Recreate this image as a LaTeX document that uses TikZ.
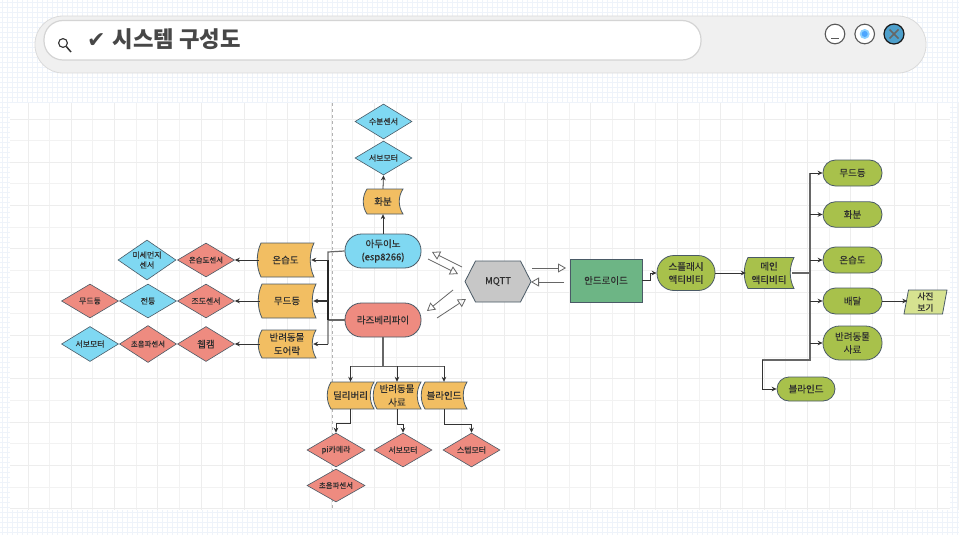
\documentclass[tikz,border=0pt]{standalone}
\usepackage{fontspec}
\setmainfont{Noto Sans CJK KR}
\newfontfamily\labelfont[FakeBold=0.22]{Noto Sans CJK KR}
\newfontfamily\checkfont{DejaVu Sans}
\usetikzlibrary{arrows.meta,shapes.geometric}
\definecolor{cblue}{HTML}{7FD8F2}
\definecolor{cred}{HTML}{EE8B80}
\definecolor{cyel}{HTML}{F2BE62}
\definecolor{cgrn}{HTML}{6DB585}
\definecolor{coli}{HTML}{A8C14B}
\definecolor{clite}{HTML}{D6E290}
\definecolor{cline}{HTML}{4A5A66}
\definecolor{ctext}{HTML}{2E2E2E}
\definecolor{cdot}{HTML}{EEF3FA}
\tikzset{
  dia/.style={diamond,draw=cline,line width=.6pt,fill=#1,inner sep=0pt,aspect=1.65,align=center,text=ctext,font=\labelfont\fontsize{7.9}{10}\selectfont},
  pill/.style={rectangle,draw=cline,line width=.8pt,fill=#1,rounded corners=12.5pt,inner sep=0pt,align=center,text=ctext,font=\labelfont\fontsize{9.5}{13}\selectfont},
  plain/.style={inner sep=0pt,align=center,text=ctext,font=\labelfont\fontsize{9.5}{13.5}\selectfont},
  wavy/.style={draw=cline,line width=.8pt,fill=#1},
  arr/.style={-{Stealth[length=5pt,width=4.6pt]},draw=black!80,line width=.8pt},
  oarr/.style={-{Triangle[open,length=8pt,width=9pt]},draw=black!60,line width=.8pt},
  trunk/.style={draw=black!60,line width=1.2pt},
}
% name, cx, cy, w, h, colour, text
\newcommand{\wavenode}[7]{%
  \path[wavy=#6] (#2-#4/2+4,#3-#5/2) -- (#2+#4/2,#3-#5/2)
    .. controls (#2+#4/2-5,#3-#5/5) and (#2+#4/2-5,#3+#5/5) .. (#2+#4/2,#3+#5/2)
    -- (#2-#4/2+4,#3+#5/2)
    .. controls (#2-#4/2-1,#3+#5/5) and (#2-#4/2-1,#3-#5/5) .. cycle;
  \node[plain,minimum width=#4*1pt-4pt,minimum height=#5*1pt] (#1) at (#2,#3) {#7};}
\begin{document}
\begin{tikzpicture}[x=1pt,y=-1pt]
\useasboundingbox (0,0) rectangle (959,535);
% page background
\fill[white] (0,0) rectangle (959,535);
\foreach \i in {0,...,191} \draw[draw=cdot,line width=.5pt] ({\i*5+2},0) -- ({\i*5+2},535);
\foreach \i in {0,...,106} \draw[draw=cdot,line width=.5pt] (0,{\i*5+2}) -- (959,{\i*5+2});
% drawing area
\fill[white] (10,103) rectangle (950,510);
\foreach \i in {0,...,21} \draw[draw=black!5,line width=1pt] ({49.65+\i*43.3},103) -- ({49.65+\i*43.3},510);
\foreach \i in {0,...,8} \draw[draw=black!5,line width=1pt] (10,{140.65+\i*43.3}) -- (950,{140.65+\i*43.3});
\foreach \i in {0,...,21} \draw[draw=black!7,line width=1pt] ({28.0+\i*43.3},103) -- ({28.0+\i*43.3},510);
\foreach \i in {0,...,9} \draw[draw=black!7,line width=1pt] (10,{119+\i*43.3}) -- (950,{119+\i*43.3});
\draw[draw=black!30,line width=.8pt,dashed] (332,103) -- (332,510);
% title bar
\draw[draw=black!14,fill=black!6,line width=.8pt,rounded corners=28pt] (35,16) rectangle (926,73);
\draw[draw=black!17,fill=white,line width=1.2pt,rounded corners=19pt] (44,20.5) rectangle (701,60);
\draw[draw=black!80,line width=1.1pt] (63,43) circle (4.4);
\draw[draw=black!80,line width=1.5pt] (66.3,46.5) -- (71,52);
\node[anchor=west,inner sep=0pt,text=black!72] (title) at (87,39.5) {{\checkfont\fontsize{22}{24}\selectfont ✔}\hspace{7pt}{\fontsize{22.3}{26}\selectfont\bfseries 시스템 구성도}};
\draw[draw=black!65,fill=white,line width=1.1pt] (835,34) circle (9.8);
\draw[draw=black!65,line width=1.3pt] (831,38.7) -- (839,38.7);
\draw[draw=black!65,fill=white,line width=1.1pt] (864.7,34) circle (9.8);
\fill[blue!40!cyan!45!white] (864.7,34) circle (5);
\fill[blue!50!cyan!70!white] (864.7,34) circle (3);
\draw[draw=black!90,fill=blue!35!cyan!55!gray!90,line width=1.2pt] (894,34) circle (10);
\draw[draw=black!60,line width=1.6pt] (889.5,29.5) -- (898.5,38.5) (898.5,29.5) -- (889.5,38.5);
% left diamonds
\node[dia=cblue,minimum width=58pt,minimum height=40pt] (mise) at (147,260) {미세먼지\\센서};
\node[dia=cred,minimum width=57pt,minimum height=34pt,font=\labelfont\fontsize{7.4}{9}\selectfont] (onsen) at (206,260) {온습도센서};
\node[dia=cred,minimum width=57pt,minimum height=34pt] (mood2) at (90,301) {무드등};
\node[dia=cblue,minimum width=57pt,minimum height=34pt] (lamp) at (148,301) {전등};
\node[dia=cred,minimum width=57pt,minimum height=34pt] (josen) at (206,301) {조도센서};
\node[dia=cblue,minimum width=57pt,minimum height=35pt] (servo1) at (90,344) {서보모터};
\node[dia=cred,minimum width=57pt,minimum height=37pt,font=\labelfont\fontsize{7.4}{9}\selectfont] (ultra1) at (148,344) {초음파센서};
\node[dia=cred,minimum width=57pt,minimum height=35pt,font=\labelfont\fontsize{9.5}{11}\selectfont] (webcam) at (206,344) {웹캠};
% left wave boxes
\wavenode{ond}{285.5}{260}{57}{34}{cyel}{온습도}
\wavenode{mood}{287}{301}{58}{34}{cyel}{무드등}
\wavenode{door}{287}{344}{58}{28}{cyel}{반려동물\\도어락}
% top column
\node[dia=cblue,minimum width=57pt,minimum height=35pt] (water) at (383.5,121.5) {수분센서};
\node[dia=cblue,minimum width=57pt,minimum height=34pt] (servo2) at (383.5,158) {서보모터};
\wavenode{pot}{383}{201.5}{40}{25}{cyel}{화분}
% controllers
\node[pill=cblue,minimum width=76pt,minimum height=34pt,rounded corners=16.5pt] (ard) at (383,251) {아두이노\\(esp8266)};
\node[pill=cred,minimum width=76pt,minimum height=34pt,rounded corners=16.5pt] (rasp) at (383,320) {라즈베리파이};
% MQTT
\path[draw=cline,line width=.8pt,fill=black!22] (465,281.5) -- (475.5,261) -- (520.5,261) -- (531,281.5) -- (520.5,302) -- (475.5,302) -- cycle;
\node[plain,minimum width=66pt,minimum height=41pt] (mqtt) at (498,281.5) {MQTT};
\node[rectangle,draw=cline,line width=.8pt,fill=cgrn,minimum width=72pt,minimum height=43pt,inner sep=0pt,text=ctext,font=\labelfont\fontsize{9.5}{12}\selectfont] (andr) at (606,280.5) {안드로이드};
% lower wave boxes
\wavenode{deliv}{350.5}{395.5}{47}{27}{cyel}{딜리버리}
\wavenode{feed}{397}{395.5}{48}{27}{cyel}{반려동물\\사료}
\wavenode{blind}{444}{395.5}{46}{27}{cyel}{블라인드}
\node[dia=cred,minimum width=58pt,minimum height=34pt] (picam) at (336,450) {pi카메라};
\node[dia=cred,minimum width=58pt,minimum height=33pt,font=\labelfont\fontsize{7.4}{9}\selectfont] (ultra2) at (336,485.5) {초음파센서};
\node[dia=cred,minimum width=58pt,minimum height=34pt] (servo3) at (403,450) {서보모터};
\node[dia=cred,minimum width=57pt,minimum height=34pt] (stepm) at (471.5,450) {스텝모터};
% right side
\node[pill=coli,minimum width=58pt,minimum height=35pt,rounded corners=17pt] (splash) at (686,273) {스플래시\\액티비티};
\wavenode{mainact}{769}{273}{50}{31}{coli}{메인\\액티비티}
\node[pill=coli,minimum width=59pt,minimum height=26pt] (r1) at (852.5,173) {무드등};
\node[pill=coli,minimum width=59pt,minimum height=25.5pt] (r2) at (852.5,214.5) {화분};
\node[pill=coli,minimum width=59pt,minimum height=26pt] (r3) at (852.5,260) {온습도};
\node[pill=coli,minimum width=59pt,minimum height=26pt] (r4) at (852.5,301) {배달};
\node[pill=coli,minimum width=59pt,minimum height=34pt,rounded corners=16.5pt] (r5) at (852.5,343) {반려동물\\사료};
\node[pill=coli,minimum width=58pt,minimum height=24pt,rounded corners=12pt] (r6) at (806,389) {블라인드};
\path[draw=cline,line width=.8pt,fill=clite] (908.5,290) -- (947,290) -- (942.5,314) -- (904,314) -- cycle;
\node[plain,minimum width=36pt,minimum height=24pt,font=\labelfont\fontsize{8.8}{11.5}\selectfont] (photo) at (925.5,302) {사진\\보기};
% left connectors
\coordinate (tl) at (328,252);
\coordinate (tm) at (328,320);
\coordinate (tb) at (328,344);
\draw[trunk] (ard.west) -- (tl) -- (tb);
\draw[trunk] (rasp.west) -- (tm);
\draw[draw=black!85,line width=1.8pt] (tl |- ond.east) -- (tm);
\draw[arr] (tl |- ond.east) -- ([xshift=-1pt]ond.east);
\draw[arr,line width=1.3pt] (tl |- mood.east) -- ([xshift=-1pt]mood.east);
\draw[arr] (tb) -- ([xshift=-1pt]door.east);
\draw[arr] (ond.west) -- (onsen.east);
\draw[arr] (mood.west) -- (josen.east);
\draw[arr] (door.west) -- (webcam.east);
% top connectors
\draw[arr] (ard.north) -- (pot.south);
\draw[arr] (pot.north) -- (servo2.south);
% raspberry bus
\coordinate (bus) at (383,366);
\draw[trunk] (rasp.south) -- (bus);
\draw[trunk,line width=1pt] (deliv.north |- bus) -- (blind.north |- bus);
\draw[arr] (deliv.north |- bus) -- (deliv.north);
\draw[arr] (feed.north |- bus) -- (feed.north);
\draw[arr] (blind.north |- bus) -- (blind.north);
\draw[arr] (deliv.south) -- ++(0,14) -| (picam.north);
\draw[arr] (feed.south) -- ++(0,15) -| (servo3.north);
\draw[arr] (blind.south) -- ++(0,15) -| (stepm.north);
% open arrows around MQTT
\coordinate (a1s) at (462,267); \coordinate (a1e) at (432,252);
\coordinate (a2s) at (428,259); \coordinate (a2e) at (458,274);
\coordinate (a3s) at (453,290); \coordinate (a3e) at (427,311);
\coordinate (a4s) at (437,318); \coordinate (a4e) at (466,299);
\coordinate (a5s) at (532,268); \coordinate (a5e) at (566,268);
\coordinate (a6s) at (564,282); \coordinate (a6e) at (531,282);
\draw[oarr] (a1s) -- (a1e);
\draw[oarr] (a2s) -- (a2e);
\draw[oarr] (a3s) -- (a3e);
\draw[oarr] (a4s) -- (a4e);
\draw[oarr] (a5s) -- (a5e);
\draw[oarr] (a6s) -- (a6e);
% right connectors
\coordinate (rt) at (810,273);
\coordinate (rb) at (810,360);
\coordinate (rl) at (762,360);
\draw[arr] (andr.east) -- ++(8,0) |- (splash.west);
\draw[arr] (splash.east) -- (mainact.west);
\draw[trunk] (mainact.east) -- (rt);
\draw[trunk] (rt |- r1.west) -- (rb) -- (rl);
\draw[arr] (rt |- r1.west) -- (r1.west);
\draw[arr] (rt |- r2.west) -- (r2.west);
\draw[arr] (rt |- r3.west) -- (r3.west);
\draw[arr] (rt |- r4.west) -- (r4.west);
\draw[arr] (rt |- r5.west) -- (r5.west);
\draw[arr] (rl) |- (r6.west);
\draw[arr] (r4.east) -- (r4.east -| photo.west);
\end{tikzpicture}
\end{document}
